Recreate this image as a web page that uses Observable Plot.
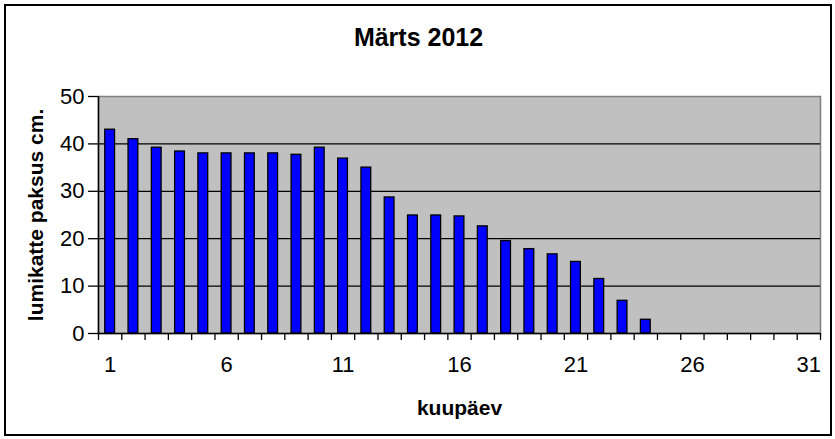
<!DOCTYPE html>
<html>
<head>
<meta charset="utf-8">
<script src="https://cdn.jsdelivr.net/npm/d3@7"></script>
<script src="https://cdn.jsdelivr.net/npm/@observablehq/plot@0.6"></script>
<style>
  body { margin: 0; background: #fff; }
  #wrap { position: relative; width: 835px; height: 439px; }
  #border { position: absolute; left: 4px; top: 4px; width: 824px; height: 428px; border: 2px solid #000; pointer-events: none; }
  svg { font-family: "Liberation Sans", Arial, sans-serif; }
</style>
</head>
<body>
<div id="wrap"><div id="border"></div></div>
<script>
const title = "Märts 2012";
const xLabel = "kuupäev";
const yLabel = "lumikatte paksus cm.";
const days = d3.range(1, 32);
const depth = [43, 41, 39.2, 38.4, 38, 38, 38, 38, 37.7, 39.2, 36.9, 35, 28.7, 24.9, 24.9, 24.7, 22.6, 19.5, 17.8, 16.7, 15.1, 11.5, 6.9, 2.9];
const xTickLabels = [1, 6, 11, 16, 21, 26, 31];
const yTicks = [0, 10, 20, 30, 40, 50];
const gridValues = [10, 20, 30, 40];

const data = depth.map((v, i) => ({day: days[i], value: v}));
const boundaries = [0, ...days].map(d => d + 0.5);
const halfBar = 0.21;

const chart = Plot.plot({
  width: 835,
  height: 439,
  marginTop: 96,
  marginLeft: 98,
  marginRight: 15,
  marginBottom: 106,
  style: {fontFamily: "'Liberation Sans', Arial, sans-serif", fontSize: "22px", color: "#000", background: "transparent"},
  x: {type: "linear", domain: [0.5, 31.5]},
  y: {domain: [0, 50]},
  marks: [
    Plot.frame({fill: "#c0c0c0", stroke: "#808080", strokeWidth: 1.5}),
    Plot.ruleY(gridValues, {stroke: "#000", strokeWidth: 1.3}),
    Plot.rectY(data, {x1: d => d.day - halfBar, x2: d => d.day + halfBar, y: "value", fill: "#0000ff", stroke: "#000", strokeWidth: 1.3}),
    Plot.ruleY([0], {stroke: "#000", strokeWidth: 1.5}),
    Plot.ruleX([0.5], {stroke: "#000", strokeWidth: 1.5}),
    Plot.axisY({ticks: yTicks, tickSize: 10, tickPadding: 4, tickFormat: d => String(d), label: null, strokeWidth: 1.3, fontSize: 22}),
    Plot.axisX({ticks: boundaries, tickSize: 7, tickFormat: () => "", label: null, strokeWidth: 1.3}),
    Plot.axisX({ticks: xTickLabels, tickSize: 0, tickPadding: 23, tickFormat: d => String(d), label: null, fontSize: 22}),
    Plot.text([title], {frameAnchor: "top", dx: -41, dy: -59, lineAnchor: "middle", fontSize: 25, fontWeight: "bold"}),
    Plot.text([xLabel], {frameAnchor: "bottom", dy: 75, lineAnchor: "middle", fontSize: 21, fontWeight: "bold"}),
    Plot.text([yLabel], {frameAnchor: "left", dx: -62, rotate: -90, lineAnchor: "middle", textAnchor: "middle", fontSize: 21, fontWeight: "bold"})
  ]
});
document.getElementById("wrap").prepend(chart);
chart.style.position = "absolute";
chart.style.left = "0";
chart.style.top = "0";
</script>
</body>
</html>
